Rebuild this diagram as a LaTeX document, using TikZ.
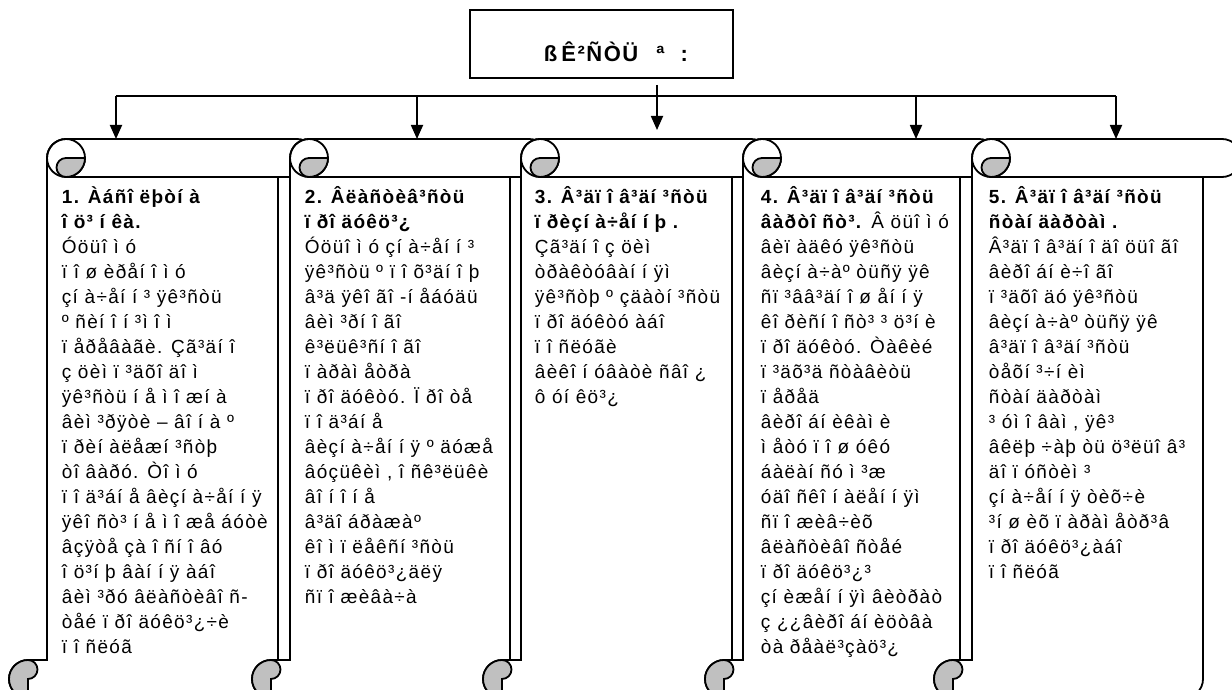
\documentclass[tikz,border=0pt]{standalone}
\usepackage{fontspec}
\setmainfont{Liberation Sans}[LetterSpace=7]
\usetikzlibrary{arrows.meta}
\definecolor{curlgrey}{RGB}{192,192,192}
\newcommand\drawscroll[2]{%
  \pgfmathsetmacro\sBL{#1}%
  \pgfmathsetmacro\sXs{#2}%
  \pgfmathsetmacro\sXe{#2+19}%
  \filldraw[fill=white] (\sBL,660) -- (\sBL,158) arc[start angle=180,end angle=270,radius=19]
    -- (\sXe,139) arc[start angle=-90,end angle=90,radius=19] -- (\sXs,177)
    -- (\sXs,679) arc[start angle=0,end angle=90,radius=19] -- (\sBL-19,698)
    arc[start angle=90,end angle=270,radius=19] -- cycle;
  \draw (\sBL+19,158) circle[radius=19];
  \filldraw[fill=curlgrey] (\sBL+38,158) arc[start angle=0,end angle=90,radius=19]
    arc[start angle=90,end angle=270,radius=9.5] -- cycle;
  \draw (\sBL+19,177) -- (\sXe,177);
  \filldraw[fill=curlgrey] (\sBL-19,698) arc[start angle=90,end angle=270,radius=19]
    arc[start angle=-90,end angle=90,radius=9.5] -- cycle;
}
\begin{document}
\begin{tikzpicture}[x=1pt,y=-1pt,line width=1.8pt,
  txt/.style={anchor=north west,inner sep=0pt,align=left,font=\fontsize{19}{25}\selectfont},
  head/.style={draw,line width=1.8pt,minimum width=263pt,minimum height=68pt,inner sep=0pt},
  headtxt/.style={inner sep=0pt,font=\fontsize{22}{24}\selectfont\bfseries},
  arr/.style={-{Triangle[length=14pt,width=12pt]}}]
\useasboundingbox (0,0) rectangle (1232,690);
\clip (0,0) rectangle (1232,690);
\fill[white] (0,0) rectangle (1232,690);

\node[head] (title) at (601.5,44) {};
\node[headtxt,anchor=base west] (titletext) at (543,62) {ß\hspace{4pt}Ê²ÑÒÜ\hspace{18pt}ª\hspace{16pt}:};

\drawscroll{47}{278}
\drawscroll{290}{510}
\drawscroll{521}{732}
\drawscroll{743}{960}
\drawscroll{972}{1203}

\coordinate (j1) at (116,96);
\coordinate (j2) at (417,96);
\coordinate (j3) at (657,85);
\coordinate (j4) at (916,96);
\coordinate (j5) at (1116,96);
\coordinate (s1) at (116,139);
\coordinate (s2) at (417,139);
\coordinate (s3) at (657,130);
\coordinate (s4) at (916,139);
\coordinate (s5) at (1116,139);
\draw (j1) -- (j5);
\draw[arr] (j1) -- (s1);
\draw[arr] (j2) -- (s2);
\draw[arr] (j3) -- (s3);
\draw[arr] (j4) -- (s4);
\draw[arr] (j5) -- (s5);

\node[txt] (t1) at (61,186) {\textbf{1. Àáñî ëþòí à}\\\textbf{î ö³ í êà.}\\
Óöüî ì ó\\ï î ø èðåí î ì ó\\çí à÷åí í ³ ÿê³ñòü\\º ñèí î í ³ì î ì\\ï åðåâàãè. Çã³äí î\\
ç öèì ï ³äõî äî ì\\ÿê³ñòü í å ì î æí à\\âèì ³ðÿòè – âî í à º\\ï ðèí àëåæí ³ñòþ\\
òî âàðó. Òî ì ó\\ï î ä³áí å âèçí à÷åí í ÿ\\ÿêî ñò³ í å ì î æå áóòè\\âçÿòå çà î ñí î âó\\
î ö³í þ âàí í ÿ àáî\\âèì ³ðó âëàñòèâî ñ-\\òåé ï ðî äóêö³¿÷è\\ï î ñëóã};

\node[txt] (t2) at (304,186) {\textbf{2. Âëàñòèâ³ñòü}\\\textbf{ï ðî äóêö³¿}\\
Óöüî ì ó çí à÷åí í ³\\ÿê³ñòü º ï î õ³äí î þ\\â³ä ÿêî ãî -í åáóäü\\âèì ³ðí î ãî\\
ê³ëüê³ñí î ãî\\ï àðàì åòðà\\ï ðî äóêòó. Ï ðî òå\\ï î ä³áí å\\âèçí à÷åí í ÿ º äóæå\\
âóçüêèì , î ñê³ëüêè\\âî í î í å\\â³äî áðàæàº\\êî ì ï ëåêñí ³ñòü\\ï ðî äóêö³¿äëÿ\\ñï î æèâà÷à};

\node[txt] (t3) at (534,186) {\textbf{3. Â³äï î â³äí ³ñòü}\\\textbf{ï ðèçí à÷åí í þ .}\\
Çã³äí î ç öèì\\òðàêòóâàí í ÿì\\ÿê³ñòþ º çäàòí ³ñòü\\ï ðî äóêòó àáî\\ï î ñëóãè\\
âèêî í óâàòè ñâî ¿\\ô óí êö³¿};

\node[txt] (t4) at (760,186) {\textbf{4. Â³äï î â³äí ³ñòü}\\\textbf{âàðòî ñò³.} Â öüî ì ó\\
âèï àäêó ÿê³ñòü\\âèçí à÷àº òüñÿ ÿê\\ñï ³ââ³äí î ø åí í ÿ\\êî ðèñí î ñò³ ³ ö³í è\\
ï ðî äóêòó. Òàêèé\\ï ³äõ³ä ñòàâèòü\\ï åðåä\\âèðî áí èêàì è\\ì åòó ï î ø óêó\\
áàëàí ñó ì ³æ\\óäî ñêî í àëåí í ÿì\\ñï î æèâ÷èõ\\âëàñòèâî ñòåé\\ï ðî äóêö³¿³\\
çí èæåí í ÿì âèòðàò\\ç ¿¿âèðî áí èöòâà\\òà ðåàë³çàö³¿};

\node[txt] (t5) at (988,186) {\textbf{5. Â³äï î â³äí ³ñòü}\\\textbf{ñòàí äàðòàì .}\\
Â³äï î â³äí î äî öüî ãî\\âèðî áí è÷î ãî\\ï ³äõî äó ÿê³ñòü\\âèçí à÷àº òüñÿ ÿê\\
â³äï î â³äí ³ñòü\\òåõí ³÷í èì\\ñòàí äàðòàì\\³ óì î âàì , ÿê³\\âêëþ ÷àþ òü ö³ëüî â³\\
äî ï óñòèì ³\\çí à÷åí í ÿ òèõ÷è\\³í ø èõ ï àðàì åòð³â\\ï ðî äóêö³¿àáî\\ï î ñëóã};
\end{tikzpicture}
\end{document}
